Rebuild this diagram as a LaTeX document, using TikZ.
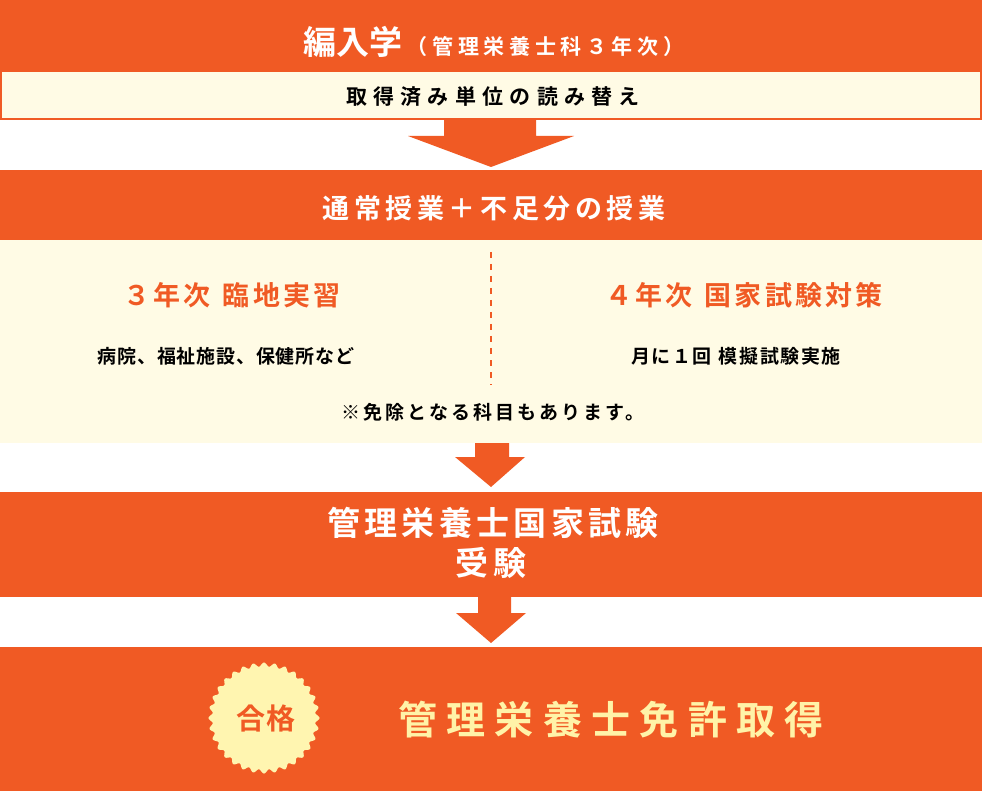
\documentclass[tikz,border=0pt]{standalone}
\usepackage{fontspec}
\setmainfont{Noto Sans CJK JP}[BoldFont={Noto Sans CJK JP Bold}]
\definecolor{org}{HTML}{F05A24}
\definecolor{cream}{HTML}{FFFBE5}
\definecolor{badge}{HTML}{FFF5B0}
\definecolor{ytext}{HTML}{FFF3A8}
\newcommand{\jf}[2]{\fontsize{#1}{#1}\selectfont\addfontfeature{LetterSpace=#2}}
\tikzset{
  obox/.style={fill=org, draw=none},
  blockarrow/.style={fill=org, draw=none},
  txt/.style={inner sep=0pt, anchor=center},
}
\begin{document}
\begin{tikzpicture}[x=1pt,y=-1pt]
\useasboundingbox (0,0) rectangle (982,791);
\fill[white] (0,0) rectangle (982,791);
% section 1
\fill[obox] (0,0) rectangle (982,71);
\filldraw[fill=cream, draw=org, line width=2pt] (1,71) rectangle (981,119);
\node[txt, text=white, font=\bfseries] (t1) at (494,42)
  {{\jf{33}{0}編入学}\hspace{4pt}{\jf{21}{22}（管理栄養士科３年次）}};
\node[txt, font=\bfseries\jf{21}{30}] (t2) at (493,97) {取得済み単位の読み替え};
% arrow 1
\fill[blockarrow] (444,120) -- (536,120) -- (536,136) -- (574,136) -- (491,167) -- (408,136) -- (444,136) -- cycle;
% section 2
\fill[obox] (0,170) rectangle (982,240);
\fill[cream] (0,240) rectangle (982,443);
\node[txt, text=white, font=\bfseries\jf{27}{17}] (t3) at (494,208) {通常授業＋不足分の授業};
\draw[org, line width=2.5pt, dash pattern=on 6pt off 6pt] (491,252) -- (491,385);
\node[txt, text=org, font=\bfseries\jf{27}{12}] (h1) at (232,295) {３年次\hspace{12pt}臨地実習};
\node[txt, text=org, font=\bfseries\jf{27}{12}] (h2) at (744,295) {４年次\hspace{12pt}国家試験対策};
\node[txt, font=\bfseries\jf{19}{4}] (s1) at (226,356) {病院、福祉施設、保健所など};
\node[txt, font=\bfseries\jf{19}{8}] (s2) at (736,356) {月に１回\hspace{7pt}模擬試験実施};
\node[txt, font=\bfseries\jf{19}{16}] (s3) at (493,412) {※免除となる科目もあります。};
% arrow 2
\fill[blockarrow] (475,443) -- (509,443) -- (509,457) -- (525,457) -- (491,487) -- (455,457) -- (475,457) -- cycle;
% section 3
\fill[obox] (0,492) rectangle (982,597);
\node[txt, text=white, font=\bfseries\jf{33}{13}] (t4) at (493,523) {管理栄養士国家試験};
\node[txt, text=white, font=\bfseries\jf{33}{13}] (t5) at (491,563) {受験};
% arrow 3
\fill[blockarrow] (478,597) -- (511,597) -- (511,613) -- (526,613) -- (491,643) -- (456,613) -- (478,613) -- cycle;
% section 4
\fill[obox] (0,647) rectangle (982,791);
\fill[badge] plot[domain=0:360, samples=385, variable=\t]
  ({264+(53.5+2*cos(32*\t))*cos(\t)}, {718+(53.5+2*cos(32*\t))*sin(\t)}) -- cycle;
\node[txt, text=org, font=\bfseries\jf{29}{6}] (b) at (266,718) {合格};
\node[txt, text=ytext, font=\bfseries\jf{39}{24}] (t6) at (611,720) {管理栄養士免許取得};
\end{tikzpicture}
\end{document}
